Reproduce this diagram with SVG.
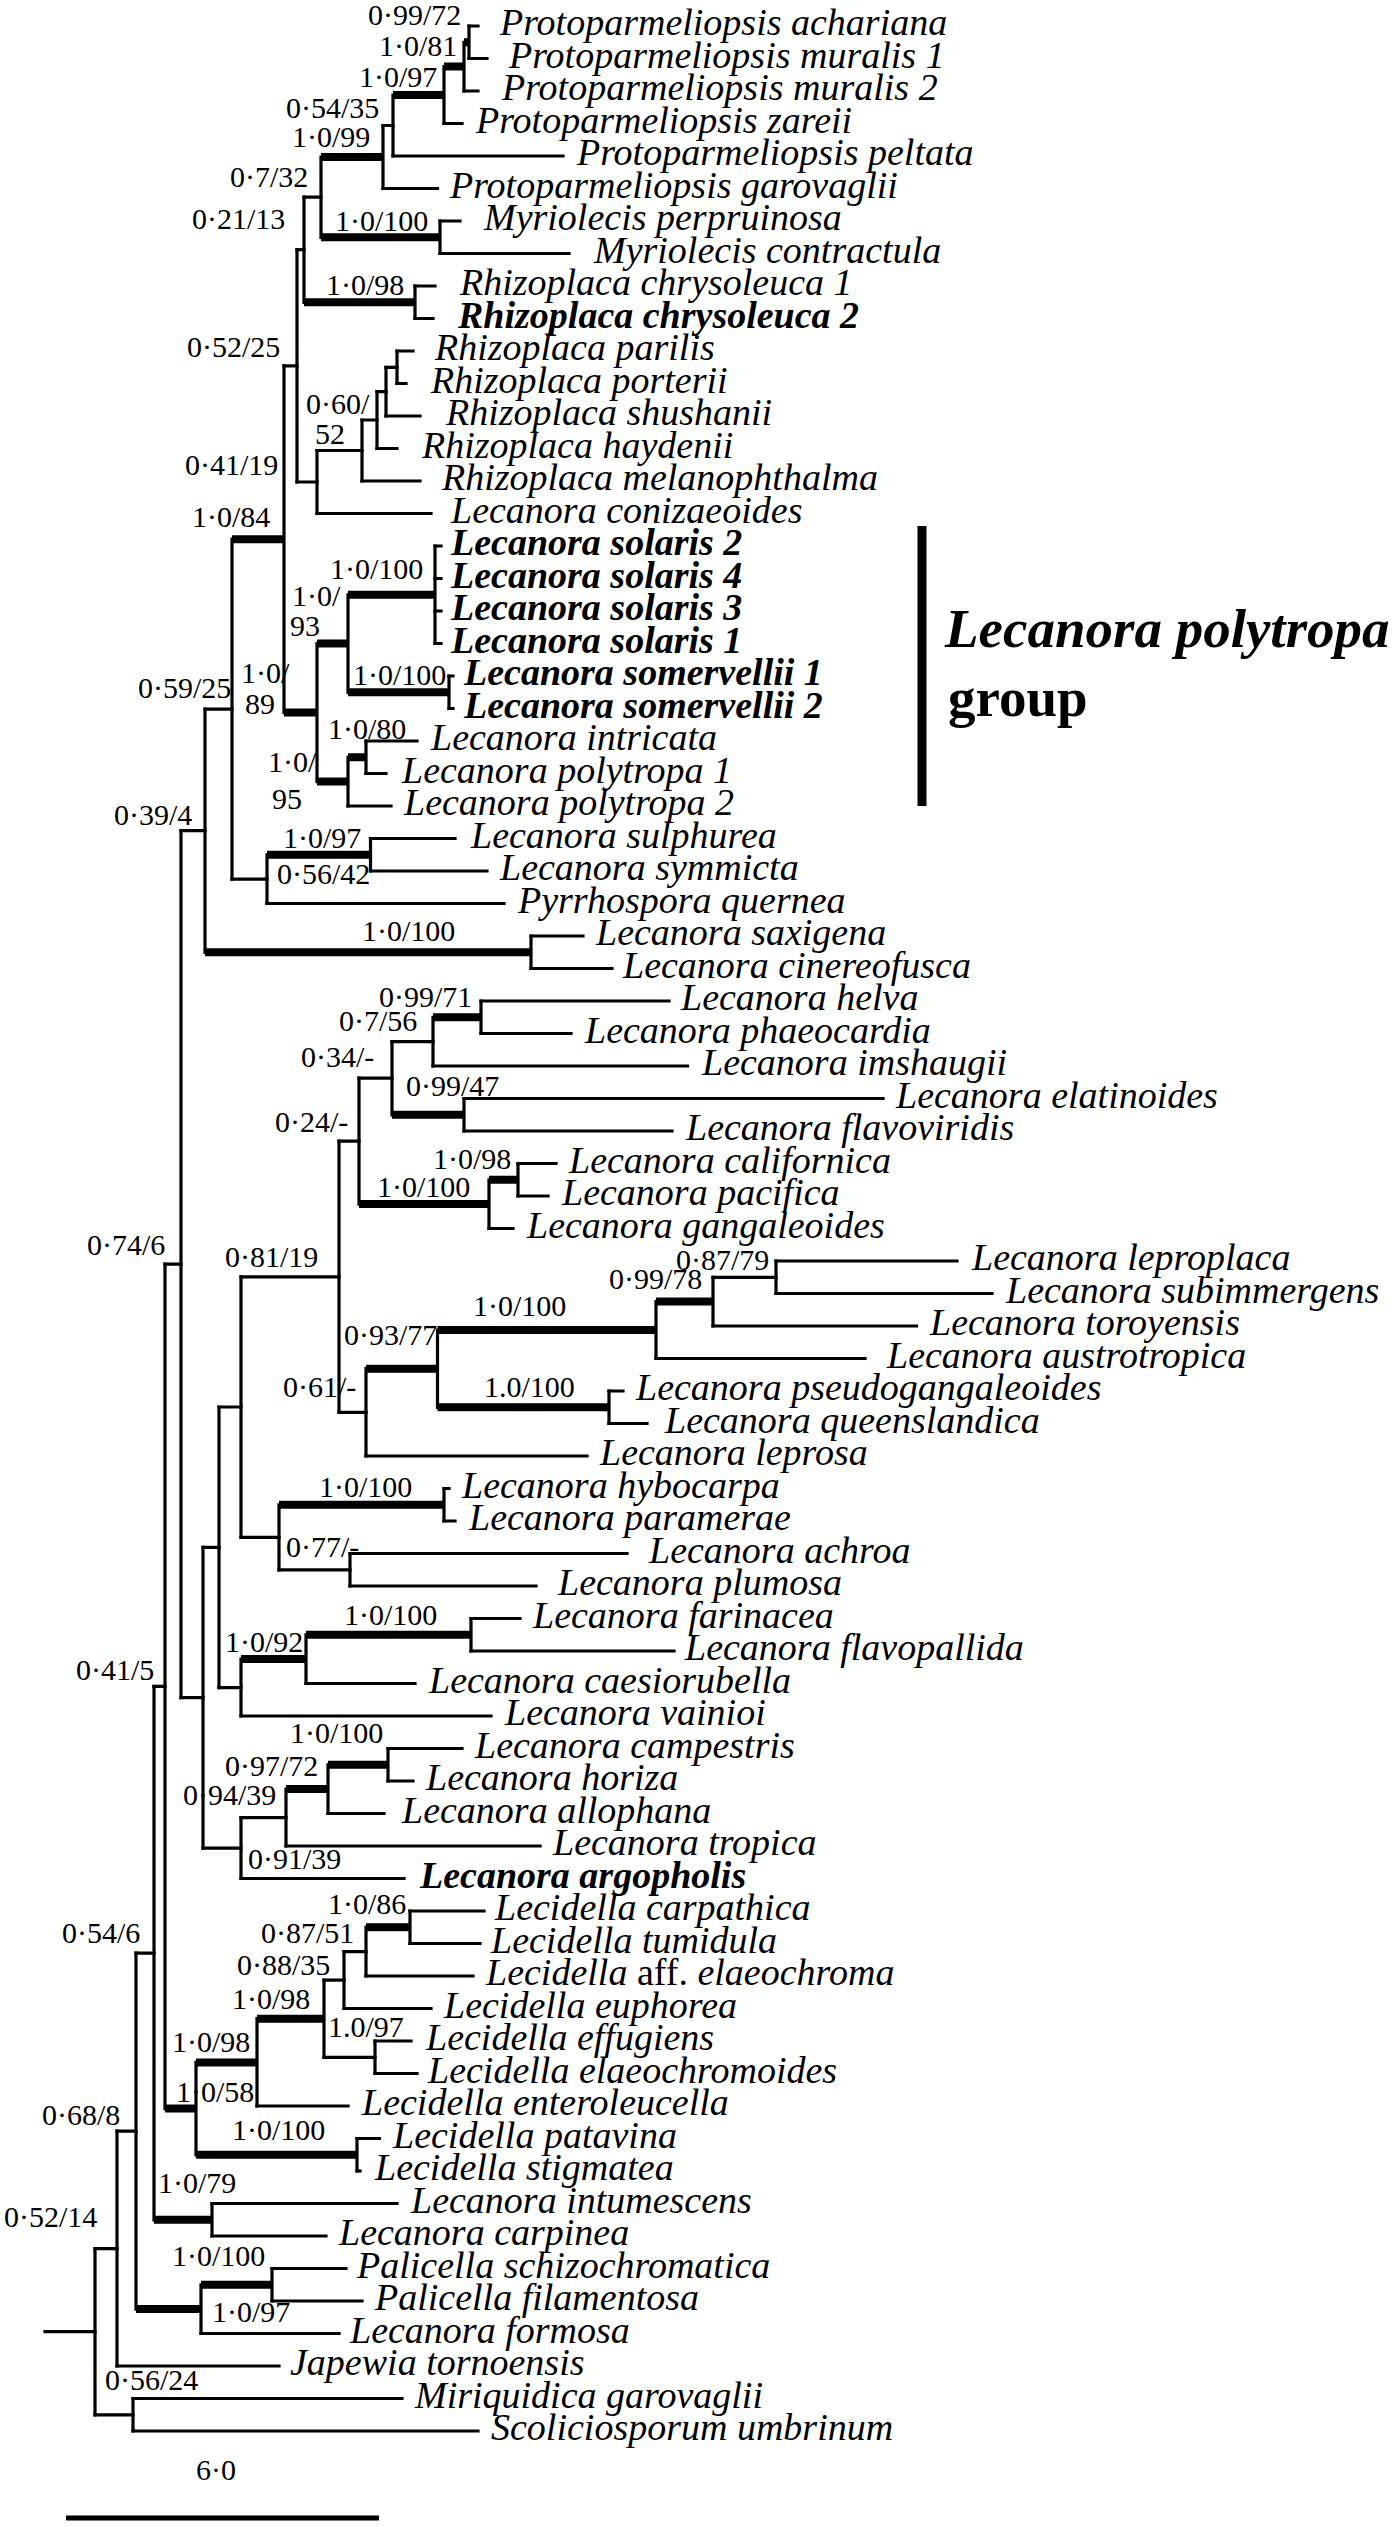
<svg xmlns="http://www.w3.org/2000/svg" width="1400" height="2532" viewBox="0 0 1400 2532">
<style>
.br{fill:none;stroke:#000;stroke-width:3.2;stroke-linecap:square}
.tk{fill:none;stroke:#000;stroke-width:8}
.t{font-family:"Liberation Serif","Times New Roman",serif;font-size:38px;font-style:italic}
.b{font-weight:bold}
.up{font-style:normal}
.s{font-family:"Liberation Serif","Times New Roman",serif;font-size:30px}
.g{font-family:"Liberation Serif","Times New Roman",serif;font-size:55px;font-weight:bold}
</style>
<rect width="1400" height="2532" fill="#fff"/>
<g id="connectors">
<path class="br" d="M95 2248.6V2414.8M117 2131.1V2366M133 2398.5V2431M136 1953.1V2309.1M154 1686.4V2219.8M201 2284.8V2333.5M272 2268.5V2301M165 1264.2V2108.6M212 2203.5V2236M181 830.7V1697.7M196 2062.4V2154.8M205 709.2V952.3M203 1547.3V1848.1M232 539.2V879.1M531 936V968.5M284 365.8V712.6M267 854.8V903.5M370.5 838.5V871M297 249.7V482M317 643.5V781.6M304 197.1V302.3M317 450.5V513.5M321 157V237.3M415 286V318.5M383 125.5V188.5M440 221V253.5M393 95.1V156M444 66.6V123.5M464 42.3V91M469 26V58.5M362 420V481M377 391.6V448.5M386 367.3V416M397 351V383.5M348 594.8V692.3M348 757.3V806M435 546V643.5M449 676V708.5M366 741V773.5M219 1407V1687.6M241 1817.6V1878.5M241 1276.8V1537.3M241 1659.1V1716M339 1141.2V1412.3M279 1504.8V1569.8M359 1078.2V1204.1M366 1368.7V1456M392 1041.6V1114.8M489 1179.8V1228.5M433 1017.3V1066M464 1098.5V1131M481 1001V1033.5M518 1163.5V1196M437.5 1330.1V1407.3M656 1301.6V1358.5M609 1391V1423.5M713 1277.3V1326M776 1261V1293.5M444 1488.5V1521M350 1553.5V1586M306 1634.8V1683.5M471 1618.5V1651M286 1789.1V1846M328 1764.8V1813.5M388 1748.5V1781M257 2018.7V2106M357 2138.5V2171M324 1980.1V2057.3M344 1951.6V2008.5M375 2041V2073.5M366 1927.3V1976M410 1911V1943.5"/>
<path class="br" d="M45 2331.7H95M95 2248.6H117M95 2414.8H133M117 2131.1H136M136 1953.1H154M154 1686.4H165M165 1264.2H181M181 830.7H205M181 1697.7H203M205 709.2H232M232 879.1H267M284 365.8H297M297 249.7H304M297 482H317M304 197.1H321M383 125.5H393M317 450.5H362M362 420H377M377 391.6H386M386 367.3H397M203 1547.3H219M203 1848.1H241M219 1407H241M219 1687.6H241M241 1276.8H339M241 1537.3H279M339 1141.2H359M339 1412.3H366M359 1078.2H392M392 1041.6H433M713 1277.3H776M279 1569.8H350M241 1817.6H286M324 1980.1H344M344 1951.6H366M324 2057.3H375"/>
<path class="tk" d="M464 42.3H469M444 66.6H464M393 95.1H444M321 157H383M321 237.3H440M304 302.3H415M232 539.2H284M284 712.6H317M317 643.5H348M317 781.6H348M348 594.8H435M348 692.3H449M348 757.3H366M267 854.8H370.5M205 952.3H531M433 1017.3H481M392 1114.8H464M359 1204.1H489M489 1179.8H518M366 1368.7H437.5M437.5 1330.1H656M437.5 1407.3H609M656 1301.6H713M279 1504.8H444M241 1659.1H306M306 1634.8H471M286 1789.1H328M328 1764.8H388M366 1927.3H410M257 2018.7H324M196 2062.4H257M165 2108.6H196M196 2154.8H357M154 2219.8H212M136 2309.1H201M201 2284.8H272"/>
<path class="br" d="M469 26H478M469 58.5H487M464 91H478M444 123.5H462M393 156H563M383 188.5H437.5M440 221H460M440 253.5H569M415 286H435M415 318.5H433M397 351H413M397 383.5H406M386 416H420M377 448.5H397M362 481H420M317 513.5H431M435 546H441M435 578.5H441M435 611H441M435 643.5H441M449 676H453M449 708.5H453M366 741H417M366 773.5H386M348 806H391M370.5 838.5H455M370.5 871H487M267 903.5H504M531 936H583M531 968.5H612M481 1001H669M481 1033.5H571M433 1066H687.5M464 1098.5H883M464 1131H672M518 1163.5H556M518 1196H548M489 1228.5H513M776 1261H957M776 1293.5H992M713 1326H916.5M656 1358.5H865M609 1391H623M609 1423.5H647M366 1456H587M444 1488.5H449M444 1521H455M350 1553.5H627M350 1586H536M471 1618.5H520M471 1651H674M306 1683.5H415M241 1716H491M388 1748.5H462M388 1781H413M328 1813.5H384M286 1846H540M241 1878.5H404M410 1911H484M410 1943.5H480M366 1976H473M344 2008.5H431M375 2041H411M375 2073.5H417M257 2106H348M357 2138.5H379.5M357 2171H360M212 2203.5H397M212 2236H326M272 2268.5H346M272 2301H362M201 2333.5H339M117 2366H279M133 2398.5H402M133 2431H478"/>
<rect x="917.5" y="526" width="9" height="280" fill="#000"/>
<path d="M66 2518H379" stroke="#000" stroke-width="5" fill="none"/>
</g>
<g id="tips" class="t">
<g id="t01"><text x="500" y="35">Protoparmeliopsis achariana</text></g>
<g id="t02"><text x="509" y="67.5">Protoparmeliopsis muralis 1</text></g>
<g id="t03"><text x="502" y="100">Protoparmeliopsis muralis 2</text></g>
<g id="t04"><text x="476" y="132.5">Protoparmeliopsis zareii</text></g>
<g id="t05"><text x="577" y="165">Protoparmeliopsis peltata</text></g>
<g id="t06"><text x="450" y="197.5">Protoparmeliopsis garovaglii</text></g>
<g id="t07"><text x="484" y="230">Myriolecis perpruinosa</text></g>
<g id="t08"><text x="594" y="262.5">Myriolecis contractula</text></g>
<g id="t09"><text x="460" y="295">Rhizoplaca chrysoleuca 1</text></g>
<g id="t10"><text class="b" x="458" y="327.5">Rhizoplaca chrysoleuca 2</text></g>
<g id="t11"><text x="435" y="360">Rhizoplaca parilis</text></g>
<g id="t12"><text x="431" y="392.5">Rhizoplaca porterii</text></g>
<g id="t13"><text x="446" y="425">Rhizoplaca shushanii</text></g>
<g id="t14"><text x="422" y="457.5">Rhizoplaca haydenii</text></g>
<g id="t15"><text x="442" y="490">Rhizoplaca melanophthalma</text></g>
<g id="t16"><text x="451" y="522.5">Lecanora conizaeoides</text></g>
<g id="t17"><text class="b" x="451" y="555">Lecanora solaris 2</text></g>
<g id="t18"><text class="b" x="451" y="587.5">Lecanora solaris 4</text></g>
<g id="t19"><text class="b" x="451" y="620">Lecanora solaris 3</text></g>
<g id="t20"><text class="b" x="451" y="652.5">Lecanora solaris 1</text></g>
<g id="t21"><text class="b" x="464" y="685">Lecanora somervellii 1</text></g>
<g id="t22"><text class="b" x="464" y="717.5">Lecanora somervellii 2</text></g>
<g id="t23"><text x="431" y="750">Lecanora intricata</text></g>
<g id="t24"><text x="402" y="782.5">Lecanora polytropa 1</text></g>
<g id="t25"><text x="404" y="815">Lecanora polytropa 2</text></g>
<g id="t26"><text x="471" y="847.5">Lecanora sulphurea</text></g>
<g id="t27"><text x="500" y="880">Lecanora symmicta</text></g>
<g id="t28"><text x="518" y="912.5">Pyrrhospora quernea</text></g>
<g id="t29"><text x="596" y="945">Lecanora saxigena</text></g>
<g id="t30"><text x="623" y="977.5">Lecanora cinereofusca</text></g>
<g id="t31"><text x="681" y="1010">Lecanora helva</text></g>
<g id="t32"><text x="585" y="1042.5">Lecanora phaeocardia</text></g>
<g id="t33"><text x="702" y="1075">Lecanora imshaugii</text></g>
<g id="t34"><text x="896" y="1107.5">Lecanora elatinoides</text></g>
<g id="t35"><text x="686" y="1140">Lecanora flavoviridis</text></g>
<g id="t36"><text x="569" y="1172.5">Lecanora californica</text></g>
<g id="t37"><text x="562" y="1205">Lecanora pacifica</text></g>
<g id="t38"><text x="527" y="1237.5">Lecanora gangaleoides</text></g>
<g id="t39"><text x="972" y="1270">Lecanora leproplaca</text></g>
<g id="t40"><text x="1006" y="1302.5">Lecanora subimmergens</text></g>
<g id="t41"><text x="930" y="1335">Lecanora toroyensis</text></g>
<g id="t42"><text x="887" y="1367.5">Lecanora austrotropica</text></g>
<g id="t43"><text x="636" y="1400">Lecanora pseudogangaleoides</text></g>
<g id="t44"><text x="665" y="1432.5">Lecanora queenslandica</text></g>
<g id="t45"><text x="600" y="1465">Lecanora leprosa</text></g>
<g id="t46"><text x="462" y="1497.5">Lecanora hybocarpa</text></g>
<g id="t47"><text x="469" y="1530">Lecanora paramerae</text></g>
<g id="t48"><text x="649" y="1562.5">Lecanora achroa</text></g>
<g id="t49"><text x="558" y="1595">Lecanora plumosa</text></g>
<g id="t50"><text x="533" y="1627.5">Lecanora farinacea</text></g>
<g id="t51"><text x="685" y="1660">Lecanora flavopallida</text></g>
<g id="t52"><text x="429" y="1692.5">Lecanora caesiorubella</text></g>
<g id="t53"><text x="505" y="1725">Lecanora vainioi</text></g>
<g id="t54"><text x="475" y="1757.5">Lecanora campestris</text></g>
<g id="t55"><text x="426" y="1790">Lecanora horiza</text></g>
<g id="t56"><text x="402" y="1822.5">Lecanora allophana</text></g>
<g id="t57"><text x="553" y="1855">Lecanora tropica</text></g>
<g id="t58"><text class="b" x="420" y="1887.5">Lecanora argopholis</text></g>
<g id="t59"><text x="495" y="1920">Lecidella carpathica</text></g>
<g id="t60"><text x="491" y="1952.5">Lecidella tumidula</text></g>
<g id="t61"><text x="486" y="1985">Lecidella <tspan class="up">aff.</tspan> elaeochroma</text></g>
<g id="t62"><text x="444" y="2017.5">Lecidella euphorea</text></g>
<g id="t63"><text x="426" y="2050">Lecidella effugiens</text></g>
<g id="t64"><text x="428" y="2082.5">Lecidella elaeochromoides</text></g>
<g id="t65"><text x="362" y="2115">Lecidella enteroleucella</text></g>
<g id="t66"><text x="393" y="2147.5">Lecidella patavina</text></g>
<g id="t67"><text x="375" y="2180">Lecidella stigmatea</text></g>
<g id="t68"><text x="411" y="2212.5">Lecanora intumescens</text></g>
<g id="t69"><text x="339" y="2245">Lecanora carpinea</text></g>
<g id="t70"><text x="357" y="2277.5">Palicella schizochromatica</text></g>
<g id="t71"><text x="375" y="2310">Palicella filamentosa</text></g>
<g id="t72"><text x="350" y="2342.5">Lecanora formosa</text></g>
<g id="t73"><text x="290" y="2375">Japewia tornoensis</text></g>
<g id="t74"><text x="415" y="2407.5">Miriquidica garovaglii</text></g>
<g id="t75"><text x="491" y="2440">Scoliciosporum umbrinum</text></g>
</g>
<g id="supports" class="s">
<g id="nA"><text x="368" y="25">0·99/72</text></g>
<g id="nB"><text x="379" y="56">1·0/81</text></g>
<g id="nC"><text x="359" y="87">1·0/97</text></g>
<g id="nD"><text x="286" y="118">0·54/35</text></g>
<g id="nE"><text x="292" y="147">1·0/99</text></g>
<g id="nF"><text x="230" y="187">0·7/32</text></g>
<g id="nMyr"><text x="335" y="231">1·0/100</text></g>
<g id="nG"><text x="192" y="229">0·21/13</text></g>
<g id="nChr"><text x="326" y="295">1·0/98</text></g>
<g id="nH"><text x="187" y="357">0·52/25</text></g>
<g id="nR"><text x="306" y="414">0·60/</text><text x="315" y="444">52</text></g>
<g id="nI"><text x="185" y="475">0·41/19</text></g>
<g id="nK"><text x="192" y="527">1·0/84</text></g>
<g id="nV"><text x="330" y="579">1·0/100</text></g>
<g id="nT"><text x="292" y="606">1·0/</text><text x="290" y="636">93</text></g>
<g id="nW"><text x="353" y="685">1·0/100</text></g>
<g id="nL"><text x="241" y="683">1·0/</text><text x="245" y="714">89</text></g>
<g id="nM"><text x="138" y="698">0·59/25</text></g>
<g id="nX"><text x="328" y="739">1·0/80</text></g>
<g id="nU"><text x="268" y="772">1·0/</text><text x="272" y="809">95</text></g>
<g id="nZ"><text x="114" y="825">0·39/4</text></g>
<g id="nO"><text x="283" y="848">1·0/97</text></g>
<g id="nN"><text x="277" y="884">0·56/42</text></g>
<g id="nSax"><text x="362" y="941">1·0/100</text></g>
<g id="nAS"><text x="379" y="1007">0·99/71</text></g>
<g id="nAQ"><text x="339" y="1031">0·7/56</text></g>
<g id="nAN"><text x="301" y="1067">0·34/-</text></g>
<g id="nAR"><text x="406" y="1096">0·99/47</text></g>
<g id="nAG"><text x="275" y="1132">0·24/-</text></g>
<g id="nAP"><text x="433" y="1169">1·0/98</text></g>
<g id="nAO"><text x="377" y="1197">1·0/100</text></g>
<g id="nAA"><text x="87" y="1255">0·74/6</text></g>
<g id="nAC"><text x="225" y="1267">0·81/19</text></g>
<g id="nAM"><text x="676" y="1270">0·87/79</text></g>
<g id="nAL"><text x="609" y="1289">0·99/78</text></g>
<g id="nAJ"><text x="473" y="1316">1·0/100</text></g>
<g id="nAI"><text x="344" y="1345">0·93/77</text></g>
<g id="nAH"><text x="283" y="1397">0·61/-</text></g>
<g id="nAK"><text x="484" y="1397">1.0/100</text></g>
<g id="nAE"><text x="319" y="1497">1·0/100</text></g>
<g id="nAF"><text x="286" y="1557">0·77/-</text></g>
<g id="nZZ"><text x="344" y="1625">1·0/100</text></g>
<g id="nYY"><text x="225" y="1652">1·0/92</text></g>
<g id="nEE"><text x="76" y="1680">0·41/5</text></g>
<g id="nWW"><text x="290" y="1743">1·0/100</text></g>
<g id="nVV"><text x="225" y="1776">0·97/72</text></g>
<g id="nUU"><text x="183" y="1805">0·94/39</text></g>
<g id="nDD"><text x="248" y="1869">0·91/39</text></g>
<g id="nTT"><text x="328" y="1914">1·0/86</text></g>
<g id="nSS"><text x="261" y="1943">0·87/51</text></g>
<g id="nII"><text x="62" y="1943">0·54/6</text></g>
<g id="nQQ"><text x="237" y="1975">0·88/35</text></g>
<g id="nPP"><text x="232" y="2009">1·0/98</text></g>
<g id="nRR"><text x="328" y="2037">1.0/97</text></g>
<g id="nNN"><text x="172" y="2052">1·0/98</text></g>
<g id="nMM"><text x="176" y="2102">1·0/58</text></g>
<g id="nHH"><text x="42" y="2125">0·68/8</text></g>
<g id="nOO"><text x="232" y="2140">1·0/100</text></g>
<g id="nLL"><text x="158" y="2193">1·0/79</text></g>
<g id="nFF"><text x="4" y="2227">0·52/14</text></g>
<g id="nKK"><text x="172" y="2266">1·0/100</text></g>
<g id="nJJ"><text x="212" y="2322">1·0/97</text></g>
<g id="nGG"><text x="105" y="2390">0·56/24</text></g>
</g>
<g id="group-label">
<text class="g" x="945" y="647" font-style="italic">Lecanora polytropa</text>
<text class="g" x="948" y="716">group</text>
</g>
<g id="scale"><text class="s" x="196" y="2480">6·0</text></g>
</svg>
